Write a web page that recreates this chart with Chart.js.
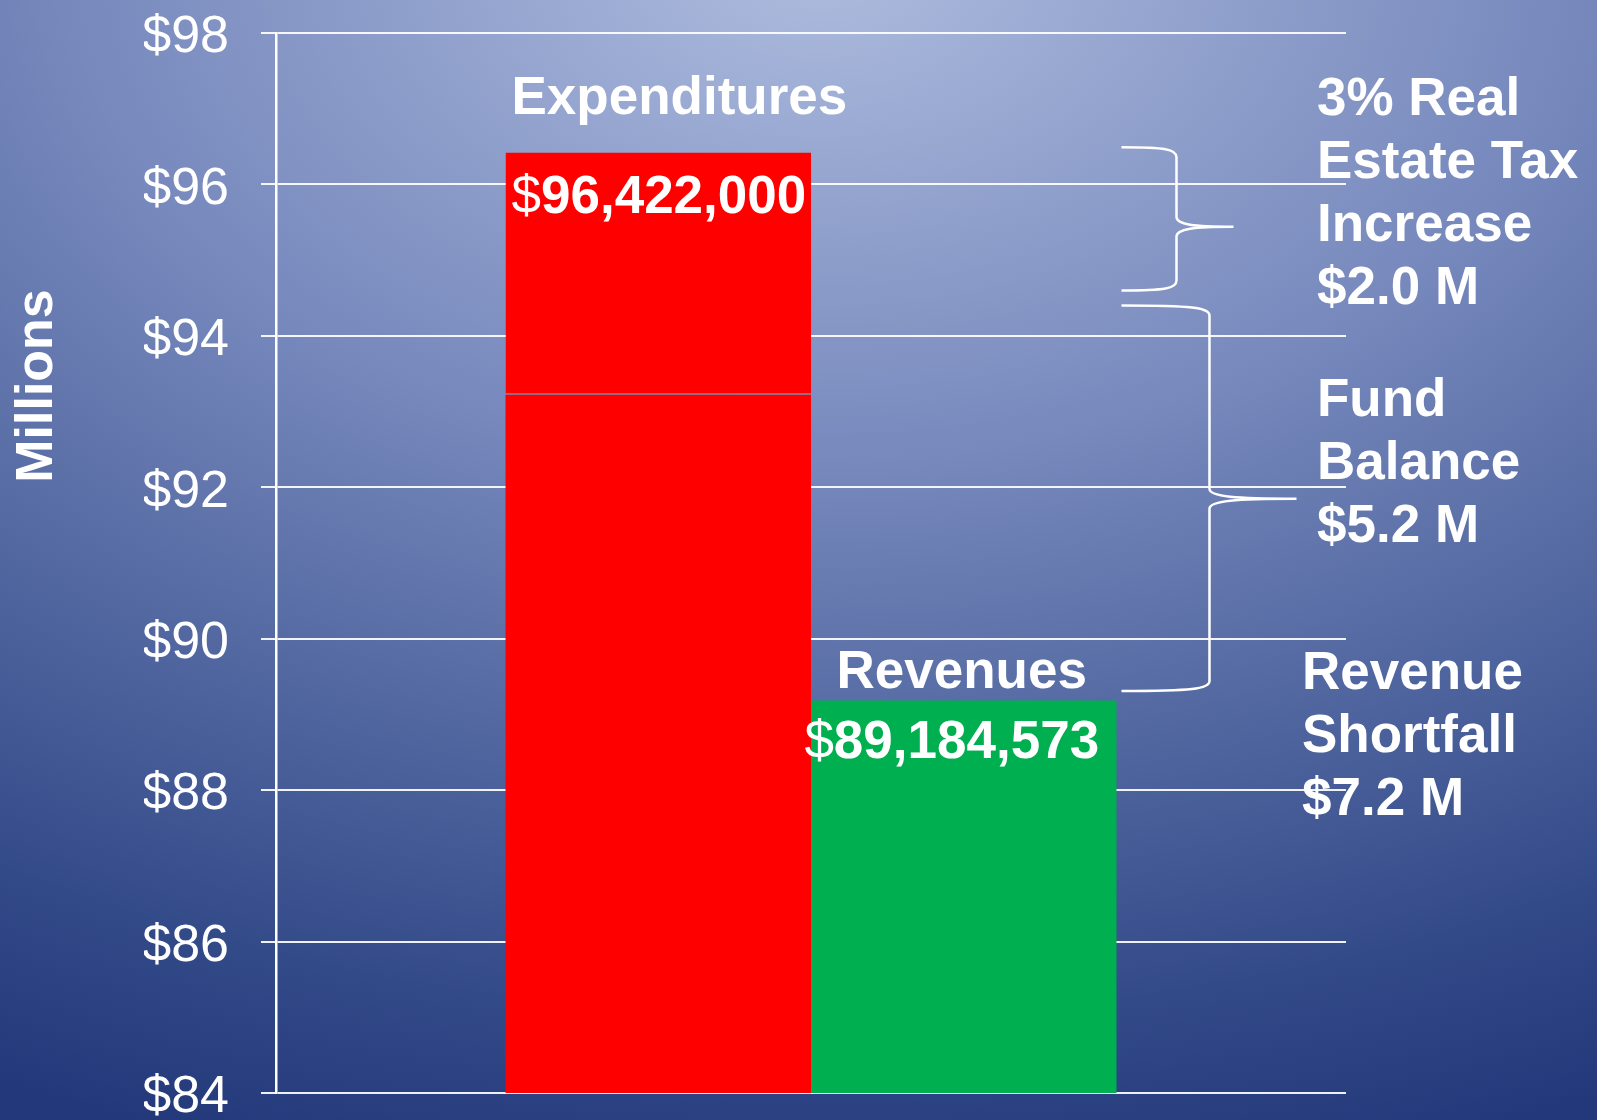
<!DOCTYPE html>
<html>
<head>
<meta charset="utf-8">
<title>Expenditures vs Revenues</title>
<script src="https://cdn.jsdelivr.net/npm/chart.js@4.4.1/dist/chart.umd.min.js"></script>
<style>
  html, body { margin: 0; padding: 0; background: #22387a; overflow: hidden; }
  #wrap { width: 1597px; height: 1120px; position: relative; }
</style>
</head>
<body>
<div id="wrap"><canvas id="budgetChart"></canvas></div>
<script>
// Data (millions of dollars)
const categories = [""];
const seriesNames = ["Expenditures", "Revenues"];
const expenditures = [96.422];
const expenditureSplit = [93.222]; // thin line inside the red bar
const revenues = [89.184573];
const barLabels = ["$96,422,000", "$89,184,573"];
const yTicks = [84, 86, 88, 90, 92, 94, 96, 98];

// Notes on the right and the braces that point to them
const taxNote = ["3% Real", "Estate Tax", "Increase", "$2.0 M"];
const fundNote = ["Fund", "Balance", "$5.2 M"];
const shortfallNote = ["Revenue", "Shortfall", "$7.2 M"];
const taxBrace = [96.49, 94.6, 95.44];
const fundBrace = [94.4, 89.31, 91.85];

const FONT = '"Liberation Sans", Arial, Helvetica, sans-serif';
const TEXT_SIZE = 53;

// slide background: light at top centre, navy toward the bottom
const backdrop = {
  id: "backdrop",
  beforeDraw(chart) {
    const ctx = chart.ctx;
    ctx.save();
    ctx.translate(820, -40);
    ctx.scale(1.5, 1);
    const g = ctx.createRadialGradient(0, 0, 0, 0, 0, 1250);
    g.addColorStop(0, "#aebcde");
    g.addColorStop(0.4, "#7789bd");
    g.addColorStop(0.6, "#586da5");
    g.addColorStop(0.85, "#334a89");
    g.addColorStop(1, "#22387a");
    ctx.fillStyle = g;
    ctx.fillRect(-1200, -200, 2400, 1500);
    ctx.restore();
  },
};

function moneyWidth(ctx, text) {
  ctx.font = TEXT_SIZE + "px " + FONT;
  const a = ctx.measureText(text[0]).width;
  ctx.font = "bold " + TEXT_SIZE + "px " + FONT;
  return a + ctx.measureText(text.slice(1)).width;
}

// "$" is plain, the digits are bold
function drawMoney(ctx, text, x, y) {
  ctx.textAlign = "left";
  ctx.font = TEXT_SIZE + "px " + FONT;
  ctx.fillText(text[0], x, y);
  x += ctx.measureText(text[0]).width;
  ctx.font = "bold " + TEXT_SIZE + "px " + FONT;
  ctx.fillText(text.slice(1), x, y);
}

function drawBrace(ctx, x0, xv, xt, top, bottom, mid) {
  const r = 10;
  ctx.beginPath();
  ctx.moveTo(x0, top);
  ctx.bezierCurveTo(x0 + (xv - x0) * 0.8, top, xv, top + 2, xv, top + r);
  ctx.lineTo(xv, mid - r);
  ctx.bezierCurveTo(xv, mid - 2, xv + (xt - xv) * 0.3, mid, xt, mid);
  ctx.bezierCurveTo(xv + (xt - xv) * 0.3, mid, xv, mid + 2, xv, mid + r);
  ctx.lineTo(xv, bottom - r);
  ctx.bezierCurveTo(xv, bottom - 2, x0 + (xv - x0) * 0.8, bottom, x0, bottom);
  ctx.stroke();
}

const annotations = {
  id: "annotations",
  afterDatasetsDraw(chart) {
    const ctx = chart.ctx;
    const area = chart.chartArea;
    const y = chart.scales.y;
    const red = chart.getDatasetMeta(1).data[0];
    const green = chart.getDatasetMeta(2).data[0];
    const redLeft = red.x - red.width / 2;
    const greenRight = green.x + green.width / 2;
    const bold = "bold " + TEXT_SIZE + "px " + FONT;

    ctx.save();
    ctx.fillStyle = "#ffffff";
    ctx.textBaseline = "alphabetic";

    // bar captions
    ctx.font = bold;
    ctx.textAlign = "left";
    ctx.fillText(seriesNames[0], redLeft + 6, red.y - 38);
    drawMoney(ctx, barLabels[0], redLeft + 6, red.y + 61);
    ctx.font = bold;
    ctx.textAlign = "center";
    ctx.fillText(seriesNames[1], green.x - 2, green.y - 12);
    const w = moneyWidth(ctx, barLabels[1]);
    drawMoney(ctx, barLabels[1], green.x - 12 - w / 2, green.y + 58);

    // notes on the right
    ctx.font = bold;
    ctx.textAlign = "left";
    const groups = [
      [taxNote, area.right - 29, area.top + 82],
      [fundNote, area.right - 29, area.top + 383],
      [shortfallNote, area.right - 44, area.top + 656],
    ];
    groups.forEach(([lines, x, y0]) => {
      lines.forEach((line, i) => ctx.fillText(line, x, y0 + i * 63));
    });

    // braces
    ctx.strokeStyle = "#ffffff";
    ctx.lineWidth = 2.5;
    drawBrace(ctx, greenRight + 5, greenRight + 60, greenRight + 117,
      y.getPixelForValue(taxBrace[0]), y.getPixelForValue(taxBrace[1]),
      y.getPixelForValue(taxBrace[2]));
    drawBrace(ctx, greenRight + 5, greenRight + 93, greenRight + 180,
      y.getPixelForValue(fundBrace[0]), y.getPixelForValue(fundBrace[1]),
      y.getPixelForValue(fundBrace[2]));

    // axis title
    ctx.translate(area.left - 238, area.top + 353);
    ctx.rotate(-Math.PI / 2);
    ctx.textAlign = "center";
    ctx.textBaseline = "middle";
    ctx.font = "bold 52px " + FONT;
    ctx.fillText("Millions", 0, 0);
    ctx.restore();
  },
};

const budgetChart = new Chart(document.getElementById("budgetChart"), {
  type: "bar",
  data: {
    labels: categories,
    datasets: [
      {
        label: "Expenditures (base)",
        data: expenditureSplit,
        stack: "exp",
        backgroundColor: "#ff0000",
        borderWidth: 0,
      },
      {
        label: "Expenditures",
        data: expenditures.map((v, i) => v - expenditureSplit[i]),
        stack: "exp",
        backgroundColor: "#ff0000",
        borderColor: "#7f86b0",
        borderSkipped: false,
        borderWidth: { top: 0, right: 0, bottom: 1.5, left: 0 },
      },
      {
        label: "Revenues",
        data: revenues,
        stack: "rev",
        backgroundColor: "#00b050",
        borderWidth: 0,
      },
    ],
  },
  options: {
    responsive: true,
    maintainAspectRatio: false,
    animation: false,
    barPercentage: 1,
    categoryPercentage: 0.571,
    layout: {
      padding: { left: 144, right: 251, top: 33, bottom: 27 },
    },
    plugins: {
      legend: { display: false },
      tooltip: { enabled: false },
    },
    scales: {
      x: {
        display: false,
      },
      y: {
        stacked: true,
        min: 84,
        max: 98,
        afterBuildTicks: (scale) => {
          scale.ticks = yTicks.map((v) => ({ value: v }));
        },
        afterFit: (scale) => {
          scale.width = 132;
          // let the end labels hang into the page padding
          scale.paddingTop = 0;
          scale.paddingBottom = 0;
        },
        ticks: {
          color: "#ffffff",
          padding: 32,
          labelOffset: 5,
          font: { family: FONT, size: 52, lineHeight: 1 },
          callback: (v) => "$" + v,
        },
        grid: {
          color: "rgba(255,255,255,0.92)",
          lineWidth: 2,
          tickLength: 15,
        },
        border: { color: "#ffffff", width: 2.5 },
      },
    },
  },
  plugins: [backdrop, annotations],
});
</script>
</body>
</html>
